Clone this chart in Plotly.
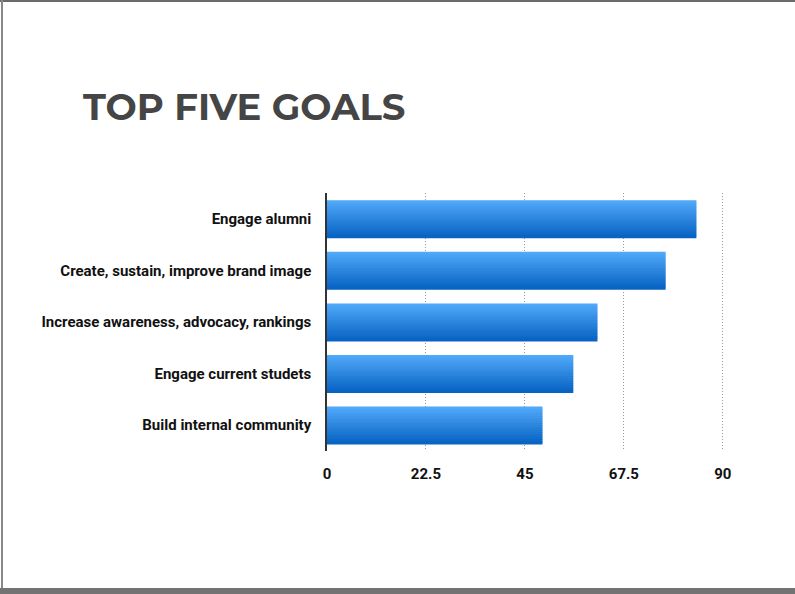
import plotly.graph_objects as go

# Goals, listed top to bottom, with their scores
goals = [
    "Engage alumni",
    "Create, sustain, improve brand image",
    "Increase awareness, advocacy, rankings",
    "Engage current studets",
    "Build internal community",
]
scores = [84, 77, 61.5, 56, 49]

x_ticks = [0, 22.5, 45, 67.5, 90]
x_tick_text = ["0", "22.5", "45", "67.5", "90"]

title_text = "TOP FIVE GOALS"

W, H = 795, 594
X_MAX = 90.5
M_L, M_R, M_T, M_B = 327, 70, 193, 143
PLOT_W = W - M_L - M_R
PLOT_H = H - M_T - M_B


def px_x(px):
    return (px - M_L) / PLOT_W


def px_y(py):
    return (H - M_B - py) / PLOT_H


def lerp_color(c1, c2, t):
    r = round(c1[0] + (c2[0] - c1[0]) * t)
    g = round(c1[1] + (c2[1] - c1[1]) * t)
    b = round(c1[2] + (c2[2] - c1[2]) * t)
    return f"rgb({r},{g},{b})"


TOP_COLOR = (80, 168, 248)
BOTTOM_COLOR = (8, 100, 196)

fig = go.Figure()

# Each bar is built from thin horizontal bands to give a vertical gradient
N_BANDS = 16
BAR_W = 0.72
step = BAR_W / N_BANDS
for i in range(N_BANDS):
    t = i / (N_BANDS - 1)
    fig.add_trace(go.Bar(
        y=goals,
        x=scores,
        orientation="h",
        width=step * 1.35,
        offset=-BAR_W / 2 + i * step,
        marker=dict(color=lerp_color(TOP_COLOR, BOTTOM_COLOR, t), line=dict(width=0)),
        hoverinfo="x+y",
        showlegend=False,
    ))

label_font = dict(family="Liberation Sans Narrow, Roboto, Arial, sans-serif",
                  size=15, color="#111111", weight="bold")

fig.update_layout(
    width=W,
    height=H,
    autosize=False,
    margin=dict(l=M_L, r=M_R, t=M_T, b=M_B, pad=0),
    paper_bgcolor="white",
    plot_bgcolor="white",
    barmode="overlay",
    xaxis=dict(
        range=[0, X_MAX],
        tickvals=x_ticks,
        ticktext=x_tick_text,
        showgrid=True,
        gridcolor="#9a9a9a",
        griddash="1px,2px",
        gridwidth=1,
        zeroline=False,
        showline=False,
        ticks="",
        ticklabelstandoff=12,
        tickfont=label_font,
        fixedrange=True,
    ),
    yaxis=dict(
        categoryorder="array",
        categoryarray=goals,
        autorange="reversed",
        showgrid=False,
        zeroline=False,
        showline=True,
        linecolor="#333333",
        linewidth=1.5,
        ticks="",
        ticklabelstandoff=11,
        tickfont=label_font,
        fixedrange=True,
    ),
    annotations=[
        dict(
            text=title_text,
            xref="paper", yref="paper",
            x=px_x(81), y=px_y(106),
            xanchor="left", yanchor="middle",
            showarrow=False,
            font=dict(family="Montserrat, 'Open Sans', Lato, sans-serif",
                      size=37, color="#454545", weight="bold"),
        )
    ],
    shapes=[
        # slide frame: top and left edges
        dict(type="line", xref="paper", yref="paper",
             x0=px_x(0), x1=px_x(W), y0=px_y(1), y1=px_y(1),
             line=dict(color="#6a6a6a", width=2)),
        dict(type="line", xref="paper", yref="paper",
             x0=px_x(2), x1=px_x(2), y0=px_y(0), y1=px_y(H),
             line=dict(color="#888888", width=2)),
        # footer band
        dict(type="rect", xref="paper", yref="paper",
             x0=px_x(0), x1=px_x(W), y0=px_y(588), y1=px_y(H + 2),
             fillcolor="#737373", line=dict(width=0), layer="above"),
    ],
)

fig.write_html("out.html")
